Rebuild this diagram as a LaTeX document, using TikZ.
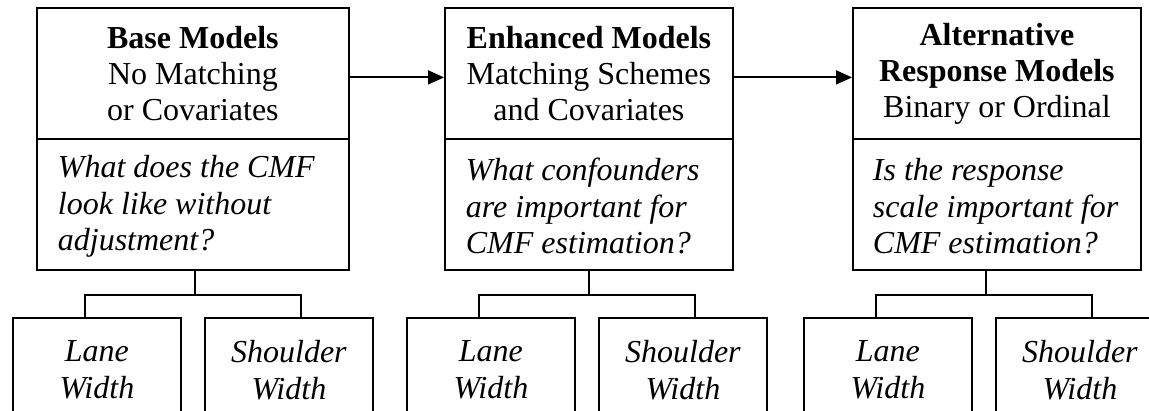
\documentclass[tikz,border=0pt]{standalone}
\usepackage{fontspec}
\setmainfont{Liberation Serif}
\usetikzlibrary{arrows.meta,calc}
\begin{document}
\begin{tikzpicture}[x=1pt,y=-1pt,
  line width=1.8pt,
  every node/.style={font=\fontsize{32}{36}\selectfont, inner sep=0pt},
  topbox/.style={draw, minimum height=131pt, align=center, anchor=north west},
  qbox/.style={draw, minimum height=131pt, anchor=north west},
  qtext/.style={align=left, anchor=west, font=\fontsize{32}{36.5}\selectfont\itshape},
  leaf/.style={draw, minimum width=168pt, minimum height=104pt, align=center, anchor=north west, font=\fontsize{32}{37}\selectfont\itshape},
  arr/.style={-{Triangle[length=16pt,width=14pt]}}
]
\clip (0,0) rectangle (1149,411);
\fill[white] (0,0) rectangle (1149,411);

% column 1
\node[topbox, minimum width=312pt] (base) at (36,7) {\textbf{Base Models}\\No Matching\\or Covariates};
\node[qbox, minimum width=312pt] (baseq) at (36,138) {};
\node[qtext] (baset) at ([xshift=21pt,yshift=-2pt]baseq.west) {What does the CMF\\look like without\\adjustment?};
\node[leaf] (bl) at (12,317) {Lane\\Width};
\node[leaf] (bs) at (204,317) {Shoulder\\Width};

% column 2
\node[topbox, minimum width=288pt] (enh) at (444,7) {\textbf{Enhanced Models}\\Matching Schemes\\and Covariates};
\node[qbox, minimum width=288pt] (enhq) at (444,138) {};
\node[qtext] (enht) at ([xshift=21pt,yshift=-2pt]enhq.west) {What confounders\\are important for\\CMF estimation?};
\node[leaf] (el) at (406,317) {Lane\\Width};
\node[leaf] (es) at (598,317) {Shoulder\\Width};

% column 3
\node[topbox, minimum width=288pt] (alt) at (852,7) {\textbf{Alternative}\\\textbf{Response Models}\\Binary or Ordinal};
\node[qbox, minimum width=288pt] (altq) at (852,138) {};
\node[qtext] (altt) at ([xshift=20pt,yshift=-2pt]altq.west) {Is the response\\scale important for\\CMF estimation?};
\node[leaf] (al) at (803,317) {Lane\\Width};
\node[leaf] (as) at (995,317) {Shoulder\\Width};

% arrows
\draw[arr] ([yshift=-4pt]base.east) -- ([yshift=-4pt]enh.west);
\draw[arr] ([yshift=-4pt]enh.east) -- ([yshift=-4pt]alt.west);

% tree connectors
\draw ([xshift=2pt]baseq.south) -- ++(0,24) -| ([xshift=-12pt]bl.north);
\draw ([xshift=2pt]baseq.south) -- ++(0,24) -| ([xshift=12pt]bs.north);
\draw (enhq.south) -- ++(0,24) -| ([xshift=-12pt]el.north);
\draw (enhq.south) -- ++(0,24) -| ([xshift=12pt]es.north);
\draw ([xshift=-11pt]altq.south) -- ++(0,24) -| ([xshift=-12pt]al.north);
\draw ([xshift=-11pt]altq.south) -- ++(0,24) -| ([xshift=12pt]as.north);
\end{tikzpicture}
\end{document}
